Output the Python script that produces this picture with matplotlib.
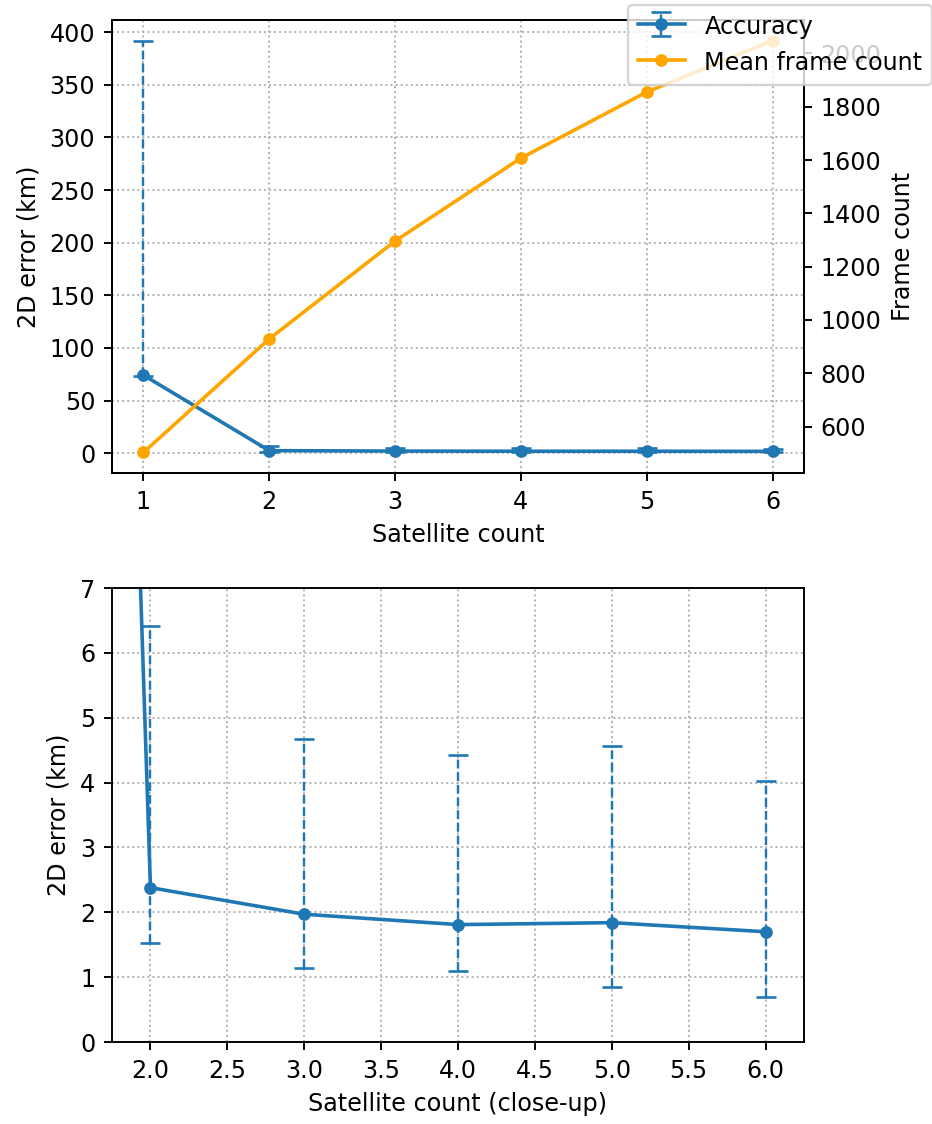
import matplotlib
matplotlib.use("Agg")
import matplotlib.pyplot as plt
import numpy as np

# satellite count vs. localisation error and frame count
sat_count = [1, 2, 3, 4, 5, 6]
err_mean = [74.1, 2.38, 1.97, 1.81, 1.84, 1.70]
err_low = [73.0, 1.53, 1.14, 1.09, 0.85, 0.70]
err_high = [392.0, 6.42, 4.67, 4.43, 4.57, 4.02]
frame_count = [503, 929, 1296, 1607, 1855, 2048]

DPI = 172
W, H = 932, 1124

yerr = [np.array(err_mean) - np.array(err_low),
        np.array(err_high) - np.array(err_mean)]


def px_rect(left, top, right, bottom):
    return [left / W, 1 - bottom / H, (right - left) / W, (bottom - top) / H]


def draw_accuracy(ax):
    eb = ax.errorbar(sat_count, err_mean, yerr=yerr, fmt='-o', color='tab:blue',
                     markersize=4.3, capsize=4, elinewidth=1, capthick=1.1,
                     label='Accuracy')
    eb[-1][0].set_linestyle('--')
    ax.grid(True, linestyle=':', color='#b0b0b0')
    ax.set_ylabel('2D error (km)')
    return eb


fig = plt.figure(figsize=(W / DPI, H / DPI), dpi=DPI)

ax1 = fig.add_axes(px_rect(112, 20, 804, 473))
draw_accuracy(ax1)
ax1.set_xlabel('Satellite count')

ax1b = ax1.twinx()
ax1b.plot(sat_count, frame_count, '-o', color='orange', markersize=4.3,
          label='Mean frame count')
ax1b.set_ylabel('Frame count')

h1, l1 = ax1.get_legend_handles_labels()
h2, l2 = ax1b.get_legend_handles_labels()
fig.legend(h1 + h2, l1 + l2, loc='upper left', borderaxespad=0,
           handleheight=1.05, handlelength=2.0,
           bbox_to_anchor=(628 / W, 1 - 5 / H))

ax2 = fig.add_axes(px_rect(112, 588, 804, 1042))
draw_accuracy(ax2)
ax2.set_xlim(1.75, 6.25)
ax2.set_ylim(0, 7)
ax2.set_xlabel('Satellite count (close-up)')

fig.savefig('out.png', dpi=DPI)
